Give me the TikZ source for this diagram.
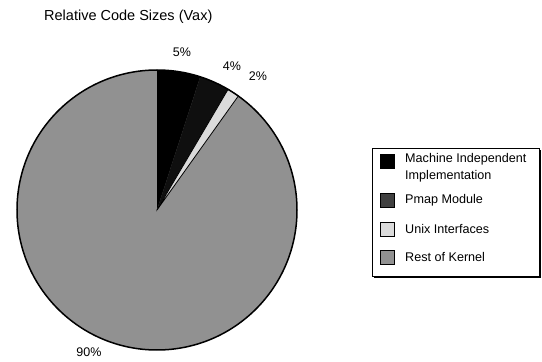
\documentclass[tikz,border=0pt]{standalone}
\usepackage{fontspec}
\setmainfont{Liberation Sans}
\begin{document}
\begin{tikzpicture}[x=1pt,y=1pt]
  \definecolor{kernelgray}{gray}{0.57}
  \definecolor{pmapdark}{gray}{0.06}
  \definecolor{pmapswatch}{gray}{0.25}
  \definecolor{unixlight}{gray}{0.86}
  \tikzset{
    slice/.style={draw=black,line width=0.8pt,line join=round},
    pct/.style={font=\fontsize{12.5}{14}\selectfont,inner sep=0pt},
    legtext/.style={font=\fontsize{12.6}{17}\selectfont,inner sep=0pt,anchor=west,align=left},
    swatch/.style={draw=black,line width=0.9pt,minimum width=14pt,minimum height=14pt,inner sep=0pt}
  }
  \useasboundingbox (0,0) rectangle (542,362);

  % pie
  \coordinate (c) at (157,152);
  \def\R{140}
  \fill[kernelgray] (c) -- ++(54.5:\R) arc[start angle=54.5,end angle=-270,radius=\R] -- cycle;
  \fill[black] (c) -- ++(90:\R) arc[start angle=90,end angle=72,radius=\R] -- cycle;
  \filldraw[fill=pmapdark,draw=pmapdark] (c) -- ++(72:\R) arc[start angle=72,end angle=59.5,radius=\R] -- cycle;
  \filldraw[slice,fill=unixlight] (c) -- ++(59.5:\R) arc[start angle=59.5,end angle=54.5,radius=\R] -- cycle;
  \draw[line width=1.5pt] (c) circle[radius=\R];

  % percentages
  \node[pct] (p1) at (182,310) {5\%};
  \node[pct] (p2) at (232,296) {4\%};
  \node[pct] (p3) at (258,286) {2\%};
  \node[pct] (p4) at (89,10) {90\%};

  % title
  \node[font=\fontsize{14.5}{16}\selectfont,anchor=west,inner sep=0pt] (title) at (44,345) {Relative Code Sizes (Vax)};

  % legend
  \fill[black] (374,84) rectangle (541,212);
  \filldraw[fill=white,draw=black,line width=0.9pt] (372,86) rectangle (539,214);
  \node[swatch,fill=black] (s1) at (387,201) {};
  \node[swatch,fill=pmapswatch] (s2) at (387,162) {};
  \node[swatch,fill=unixlight] (s3) at (387,133) {};
  \node[swatch,fill=kernelgray] (s4) at (387,105) {};
  \node[legtext,anchor=north west] (l1) at (405,209) {Machine Independent\\Implementation};
  \node[legtext] (l2) at (405,162) {Pmap Module};
  \node[legtext] (l3) at (405,133) {Unix Interfaces};
  \node[legtext] (l4) at (405,105) {Rest of Kernel};
\end{tikzpicture}
\end{document}
